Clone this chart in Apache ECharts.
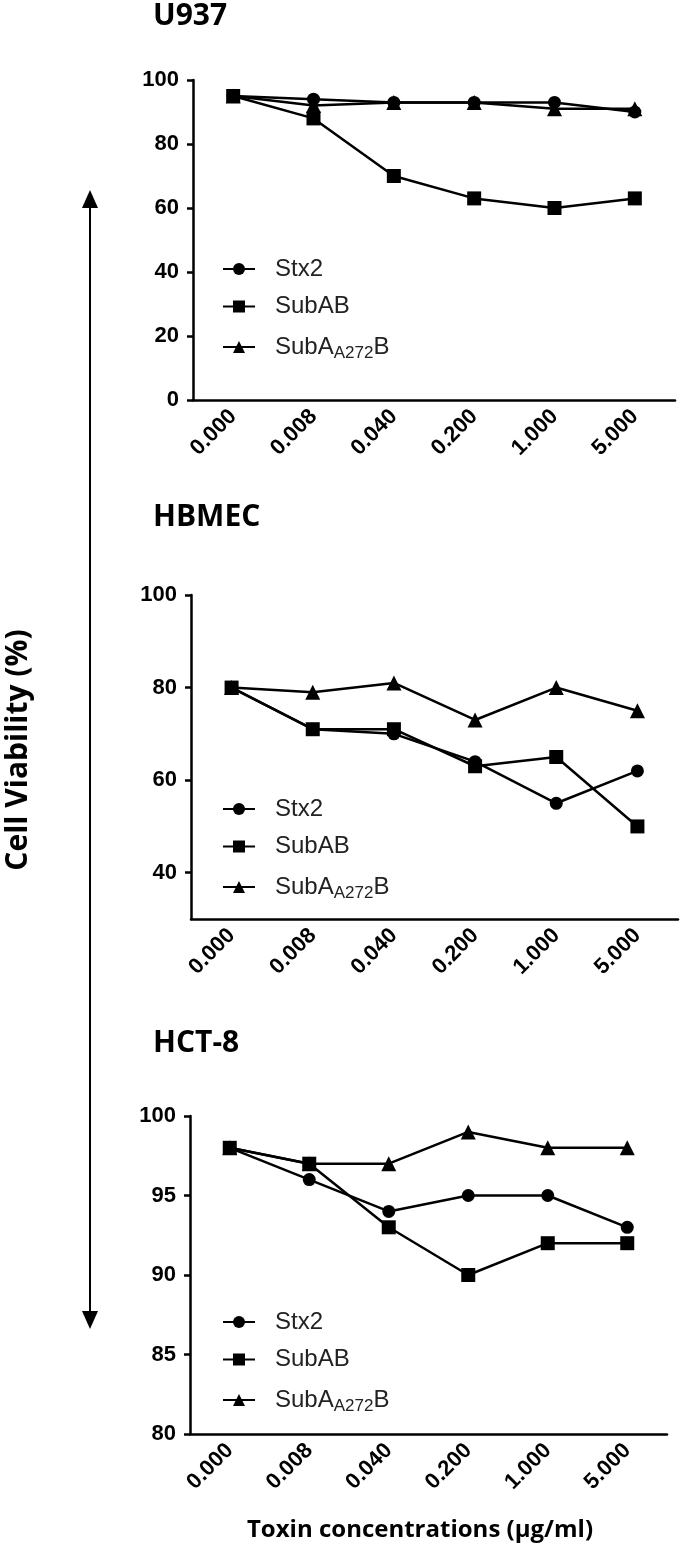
<!DOCTYPE html>
<html>
<head>
<meta charset="utf-8">
<script src="https://cdn.jsdelivr.net/npm/echarts@6/dist/echarts.min.js"></script>
<style>
  html, body { margin: 0; padding: 0; background: #fff; }
  #chart { width: 680px; height: 1549px; }
</style>
</head>
<body>
<div id="chart"></div>
<script>
const categories = ["0.000", "0.008", "0.040", "0.200", "1.000", "5.000"];
const seriesNames = ["Stx2", "SubAB", "SubAA272B"];
const panelTitles = ["U937", "HBMEC", "HCT-8"];

const u937Stx2 = [95, 94, 93, 93, 93, 90];
const u937SubAB = [95, 88, 70, 63, 60, 63];
const u937SubA272B = [95, 92, 93, 93, 91, 91];

const hbmecStx2 = [80, 71, 70, 64, 55, 62];
const hbmecSubAB = [80, 71, 71, 63, 65, 50];
const hbmecSubA272B = [80, 79, 81, 73, 80, 75];

const hct8Stx2 = [98, 96, 94, 95, 95, 93];
const hct8SubAB = [98, 97, 93, 90, 92, 92];
const hct8SubA272B = [98, 97, 97, 99, 98, 98];

const u937Ticks = [0, 20, 40, 60, 80, 100];
const hbmecTicks = [40, 60, 80, 100];
const hct8Ticks = [80, 85, 90, 95, 100];
const yMins = [0, 30, 80];

const panelData = [
  [u937Stx2, u937SubAB, u937SubA272B],
  [hbmecStx2, hbmecSubAB, hbmecSubA272B],
  [hct8Stx2, hct8SubAB, hct8SubA272B]
];
const panelTicks = [u937Ticks, hbmecTicks, hct8Ticks];

const chart = echarts.init(document.getElementById("chart"));

// plot boxes in pixels
const grids = [
  { left: 193, top: 80, width: 482, height: 320 },
  { left: 191, top: 595, width: 487, height: 324 },
  { left: 190, top: 1116, width: 477, height: 318 }
];
const titleTops = [1, 502, 1028];
const legendTops = [257, 797, 1310];

const symbols = ["circle", "rect", "triangle"];
const symbolSizes = [13, 14, 15];

const tickFont = {
  color: "#000",
  fontFamily: "Liberation Sans, Arial, sans-serif",
  fontWeight: "bold",
  fontSize: 22
};

const option = {
  animation: false,
  backgroundColor: "#fff",
  title: panelTitles.map((t, i) => ({
    text: t,
    left: 153,
    top: titleTops[i],
    padding: 0,
    textStyle: {
      fontFamily: "Open Sans",
      fontWeight: "bold",
      fontSize: 30,
      lineHeight: 30,
      color: "#000"
    }
  })),
  grid: grids,
  legend: grids.map((g, i) => ({
    orient: "vertical",
    left: 222,
    top: legendTops[i],
    padding: 0,
    itemWidth: 32,
    itemHeight: 15,
    itemGap: 13.5,
    data: seriesNames,
    formatter: (name) =>
      name === "SubAA272B" ? "{t|SubA}{s|A272}{t|B}" : "{t|" + name + "}",
    textStyle: {
      padding: [0, 0, 0, 15],
      rich: {
        t: {
          fontFamily: "Liberation Sans, Arial, sans-serif",
          fontSize: 24,
          lineHeight: 24,
          color: "#222"
        },
        s: {
          fontFamily: "Liberation Sans, Arial, sans-serif",
          fontSize: 17,
          lineHeight: 17,
          color: "#222",
          padding: [13, 0, 0, 0]
        }
      }
    }
  })),
  xAxis: grids.map((g, i) => ({
    type: "category",
    gridIndex: i,
    data: categories,
    boundaryGap: true,
    axisLine: { lineStyle: { color: "#000", width: 2.5 } },
    axisTick: { alignWithLabel: true, length: 6, lineStyle: { color: "#000", width: 2.5 } },
    axisLabel: Object.assign({ rotate: 45, margin: 13, interval: 0 }, tickFont),
    splitLine: { show: false }
  })),
  yAxis: grids.map((g, i) => ({
    type: "value",
    gridIndex: i,
    min: yMins[i],
    max: 100,
    axisLine: { show: true, lineStyle: { color: "#000", width: 2.5 } },
    axisTick: {
      show: true,
      length: 6,
      lineStyle: { color: "#000", width: 2.5 },
      customValues: panelTicks[i]
    },
    axisLabel: Object.assign({ margin: 14, customValues: panelTicks[i] }, tickFont),
    splitLine: { show: false }
  })),
  series: [],
  graphic: [
    {
      type: "line",
      shape: { x1: 90, y1: 200, x2: 90, y2: 1318 },
      style: { stroke: "#000", lineWidth: 2 }
    },
    {
      type: "polygon",
      shape: { points: [[90, 190], [82, 208], [98, 208]] },
      style: { fill: "#000" }
    },
    {
      type: "polygon",
      shape: { points: [[90, 1329], [82, 1311], [98, 1311]] },
      style: { fill: "#000" }
    },
    {
      type: "text",
      x: 18,
      y: 750,
      rotation: Math.PI / 2,
      style: {
        text: "Cell Viability (%)",
        font: "bold 30px 'Open Sans'",
        fill: "#000",
        textAlign: "center",
        textVerticalAlign: "middle",
        align: "center",
        verticalAlign: "middle"
      }
    },
    {
      type: "text",
      x: 420,
      y: 1530,
      style: {
        text: "Toxin concentrations (µg/ml)",
        font: "bold 24px 'Open Sans'",
        fill: "#000",
        textAlign: "center",
        textVerticalAlign: "middle",
        align: "center",
        verticalAlign: "middle"
      }
    }
  ]
};

panelData.forEach((rows, p) => {
  rows.forEach((vals, k) => {
    option.series.push({
      name: seriesNames[k],
      type: "line",
      xAxisIndex: p,
      yAxisIndex: p,
      data: vals,
      symbol: symbols[k],
      symbolSize: symbolSizes[k],
      showAllSymbol: true,
      lineStyle: { color: "#000", width: 2.5 },
      itemStyle: { color: "#000", borderWidth: 0 }
    });
  });
});

chart.setOption(option);
</script>
</body>
</html>
